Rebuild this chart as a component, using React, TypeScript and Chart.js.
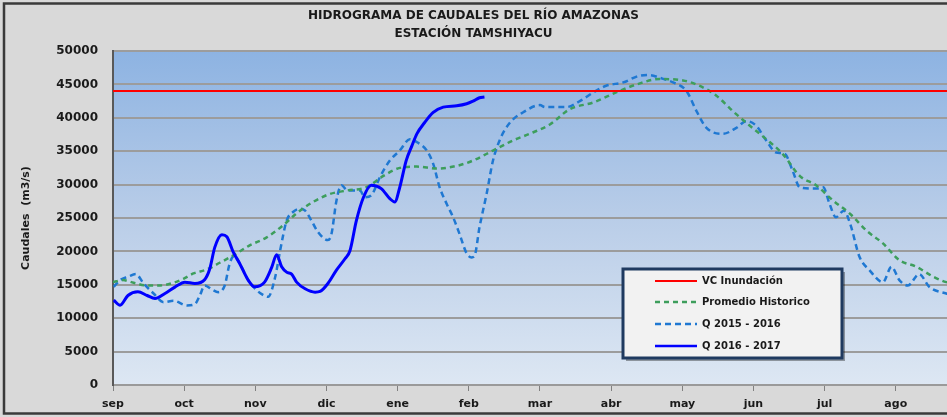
import React, { useEffect, useRef } from "react";
import { Chart, registerables } from "chart.js";

Chart.register(...registerables);

// ---- data (x = months since 1 Sep, y = m3/s) ----
const monthLabels = ["sep", "oct", "nov", "dic", "ene", "feb", "mar", "abr", "may", "jun", "jul", "ago"];
const xMax = 11.72;
const floodLevel = 44000;

const q1617Months = [0.01, 0.1, 0.21, 0.35, 0.48, 0.59, 0.73, 0.87, 1.01, 1.15, 1.29, 1.36, 1.43, 1.53, 1.6, 1.69, 1.78, 1.9, 1.99, 2.13, 2.23, 2.3, 2.37, 2.44, 2.51, 2.58, 2.7, 2.84, 2.91, 3.02, 3.14, 3.26, 3.33, 3.42, 3.52, 3.63, 3.77, 3.89, 3.96, 4.03, 4.12, 4.2, 4.27, 4.38, 4.5, 4.64, 4.83, 4.97, 5.06, 5.15, 5.22];
const q1617Flow = [12700, 11950, 13400, 13950, 13400, 12950, 13700, 14650, 15400, 15200, 15800, 17400, 20600, 22500, 22200, 19900, 18200, 15700, 14700, 15400, 17600, 19500, 17700, 16900, 16600, 15400, 14400, 13900, 14000, 15200, 17200, 18900, 20100, 24600, 28100, 29900, 29400, 27900, 27400, 29600, 33600, 35800, 37600, 39300, 40800, 41600, 41800, 42100, 42500, 43000, 43100];

const q1516Months = [0.01, 0.1, 0.21, 0.32, 0.43, 0.57, 0.71, 0.85, 1.04, 1.15, 1.22, 1.29, 1.39, 1.48, 1.57, 1.64, 1.7, 1.78, 1.9, 1.99, 2.09, 2.18, 2.28, 2.35, 2.44, 2.53, 2.63, 2.7, 2.79, 2.88, 3.02, 3.07, 3.14, 3.21, 3.3, 3.47, 3.54, 3.63, 3.75, 3.89, 4.03, 4.17, 4.28, 4.41, 4.5, 4.59, 4.69, 4.78, 4.87, 4.97, 5.04, 5.08, 5.15, 5.25, 5.34, 5.44, 5.58, 5.76, 6.0, 6.07, 6.37, 6.56, 6.75, 6.93, 7.17, 7.4, 7.54, 7.68, 7.87, 8.06, 8.2, 8.34, 8.57, 8.76, 8.9, 9.04, 9.18, 9.32, 9.44, 9.55, 9.65, 9.88, 9.98, 10.07, 10.16, 10.27, 10.36, 10.49, 10.63, 10.82, 10.94, 11.05, 11.17, 11.33, 11.47, 11.71, 11.9];
const q1516Flow = [14700, 15700, 16200, 16600, 15200, 13700, 12400, 12600, 11900, 12100, 13400, 14900, 14300, 13900, 14900, 18200, 19300, 18200, 15700, 14500, 13600, 13200, 16200, 20200, 24600, 25900, 26400, 26100, 24600, 22900, 21700, 22600, 27600, 29900, 29100, 29100, 28100, 28400, 31100, 33600, 35100, 36800, 36300, 35100, 33100, 29600, 27100, 25100, 22600, 19700, 19100, 19300, 23600, 28600, 33600, 36800, 39300, 40800, 41900, 41600, 41600, 42500, 43800, 44800, 45300, 46300, 46400, 46000, 45300, 44000, 41000, 38500, 37600, 38500, 39500, 38800, 36600, 34800, 34600, 32100, 29600, 29400, 29600, 27100, 25100, 26100, 24100, 19200, 17200, 15400, 17700, 15700, 14900, 16600, 14700, 13700, 13200];

const avgMonths = [0.0, 0.14, 0.29, 0.47, 0.66, 0.85, 0.99, 1.13, 1.32, 1.5, 1.69, 1.92, 2.16, 2.39, 2.58, 2.81, 3.05, 3.28, 3.56, 3.8, 4.03, 4.27, 4.55, 4.83, 5.06, 5.34, 5.62, 5.9, 6.14, 6.42, 6.75, 7.07, 7.36, 7.68, 8.01, 8.24, 8.48, 8.71, 8.95, 9.18, 9.41, 9.65, 9.88, 10.12, 10.36, 10.59, 10.82, 11.05, 11.29, 11.53, 11.71, 11.9];
const avgFlow = [15400, 15700, 15300, 14900, 14900, 15300, 15900, 16700, 17300, 18300, 19400, 20900, 22100, 23900, 25700, 27400, 28600, 29100, 29600, 31300, 32500, 32700, 32400, 32800, 33600, 35100, 36600, 37800, 39000, 41300, 42300, 43800, 45000, 45800, 45600, 44800, 43300, 41000, 38800, 36800, 34600, 31300, 29900, 27600, 25600, 23100, 21200, 18700, 17700, 16200, 15400, 15000];

const yTickValues = [0, 5000, 10000, 15000, 20000, 25000, 30000, 35000, 40000, 45000, 50000];

const seriesNames = ["VC Inundación", "Promedio Historico", "Q 2015 - 2016", "Q 2016 - 2017"];

const toPoints = (xs: number[], ys: number[]) => xs.map((x, i) => ({ x, y: ys[i] }));

const bgPlugin = {
  id: "bgPlugin",
  beforeDraw(chart: any) {
    const { ctx, chartArea: a, width, height } = chart;
    ctx.save();
    ctx.fillStyle = "#d9d9d9";
    ctx.fillRect(0, 0, width, height);
    const g = ctx.createLinearGradient(0, a.top, 0, a.bottom);
    g.addColorStop(0, "#8db3e2");
    g.addColorStop(0.5, "#b9cde8");
    g.addColorStop(1, "#dde7f3");
    ctx.fillStyle = g;
    ctx.fillRect(a.left, a.top, a.right - a.left, a.bottom - a.top);
    ctx.restore();
  },
  afterDraw(chart: any) {
    const { ctx } = chart;
    ctx.save();
    // outer frame
    ctx.strokeStyle = "#3a3a3a";
    ctx.lineWidth = 2.5;
    ctx.strokeRect(4, 3.5, 1000, 410);
    // legend box
    const bx = 623, by = 269, bw = 219, bh = 89;
    ctx.fillStyle = "rgba(0,0,0,0.35)";
    ctx.fillRect(bx + 3, by + 3, bw, bh);
    ctx.fillStyle = "#f2f2f2";
    ctx.fillRect(bx, by, bw, bh);
    ctx.strokeStyle = "#1f3a60";
    ctx.lineWidth = 3;
    ctx.strokeRect(bx, by, bw, bh);
    const rows = [281, 302, 324, 346];
    const ds = chart.data.datasets;
    ctx.font = "bold 10px 'DejaVu Sans'";
    ctx.textBaseline = "middle";
    ctx.textAlign = "left";
    ds.forEach((d: any, i: number) => {
      ctx.beginPath();
      ctx.strokeStyle = d.borderColor;
      ctx.lineWidth = Math.min(d.borderWidth, 2.5);
      ctx.setLineDash(d.borderDash || []);
      ctx.moveTo(655, rows[i]);
      ctx.lineTo(697, rows[i]);
      ctx.stroke();
      ctx.setLineDash([]);
      ctx.fillStyle = "#1a1a1a";
      ctx.fillText(d.label, 702, rows[i] + 0.5);
    });
    ctx.restore();
  },
};

export default function App() {
  const ref = useRef<HTMLCanvasElement | null>(null);
  useEffect(() => {
    if (!ref.current) return;
    const chart = new Chart(ref.current, {
      type: "line",
      data: {
        datasets: [
          {
            label: seriesNames[0],
            data: [{ x: 0, y: floodLevel }, { x: 12, y: floodLevel }],
            borderColor: "#ff0000",
            borderWidth: 2,
            pointRadius: 0,
            order: 0,
          },
          {
            label: seriesNames[1],
            data: toPoints(avgMonths, avgFlow),
            borderColor: "#3d9e5c",
            borderWidth: 2.5,
            borderDash: [5, 4],
            pointRadius: 0,
            cubicInterpolationMode: "monotone",
            order: 2,
          },
          {
            label: seriesNames[2],
            data: toPoints(q1516Months, q1516Flow),
            borderColor: "#1f78d2",
            borderWidth: 2.5,
            borderDash: [6, 4],
            pointRadius: 0,
            cubicInterpolationMode: "monotone",
            order: 3,
          },
          {
            label: seriesNames[3],
            data: toPoints(q1617Months, q1617Flow),
            borderColor: "#0000ff",
            borderWidth: 3,
            pointRadius: 0,
            cubicInterpolationMode: "monotone",
            order: 1,
          },
        ],
      },
      options: {
        animation: false,
        responsive: false,
        devicePixelRatio: 1,
        layout: { padding: { left: 0, right: 0, top: 0, bottom: 0 } },
        plugins: {
          legend: { display: false },
          tooltip: { enabled: false },
          title: {
            display: true,
            text: ["HIDROGRAMA DE CAUDALES DEL RÍO AMAZONAS", "ESTACIÓN TAMSHIYACU"],
            color: "#1a1a1a",
            font: { family: "'DejaVu Sans'", size: 12, weight: "bold", lineHeight: 1.5 },
            padding: { top: 7, bottom: 8 },
          },
        },
        scales: {
          x: {
            type: "linear",
            min: 0,
            max: xMax,
            afterBuildTicks: (s: any) => {
              s.ticks = monthLabels.map((_, i) => ({ value: i }));
            },
            afterFit: (s: any) => {
              s.height = 32;
            },
            ticks: {
              callback: (v: any) => monthLabels[Math.round(Number(v))] ?? "",
              color: "#1a1a1a",
              font: { family: "'DejaVu Sans'", size: 11, weight: "bold" },
              padding: 7,
              maxRotation: 0,
              autoSkip: false,
            },
            grid: { display: true, drawOnChartArea: false, drawTicks: true, tickLength: 6, color: "#808080" },
            border: { display: true, color: "#9a9a9a", width: 2 },
          },
          y: {
            min: 0,
            max: 50000,
            afterBuildTicks: (s: any) => {
              s.ticks = yTickValues.map((v) => ({ value: v }));
            },
            afterFit: (s: any) => {
              s.width = 113;
            },
            ticks: {
              callback: (v: any) => String(v),
              color: "#1a1a1a",
              font: { family: "'DejaVu Sans'", size: 12, weight: "bold" },
              padding: 15,
            },
            grid: { color: "#9c9c9c", lineWidth: 2, drawTicks: false },
            border: { display: true, color: "#595959", width: 2 },
            title: {
              display: true,
              text: "Caudales  (m3/s)",
              color: "#1a1a1a",
              font: { family: "'DejaVu Sans'", size: 11, weight: "bold" },
              padding: { top: 20, bottom: 0 },
            },
          },
        },
      },
      plugins: [bgPlugin],
    } as any);
    return () => chart.destroy();
  }, []);
  return (
    <div style={{ position: "fixed", left: 0, top: 0, width: 947, height: 417 }}>
      <canvas ref={ref} width={947} height={417} />
    </div>
  );
}
